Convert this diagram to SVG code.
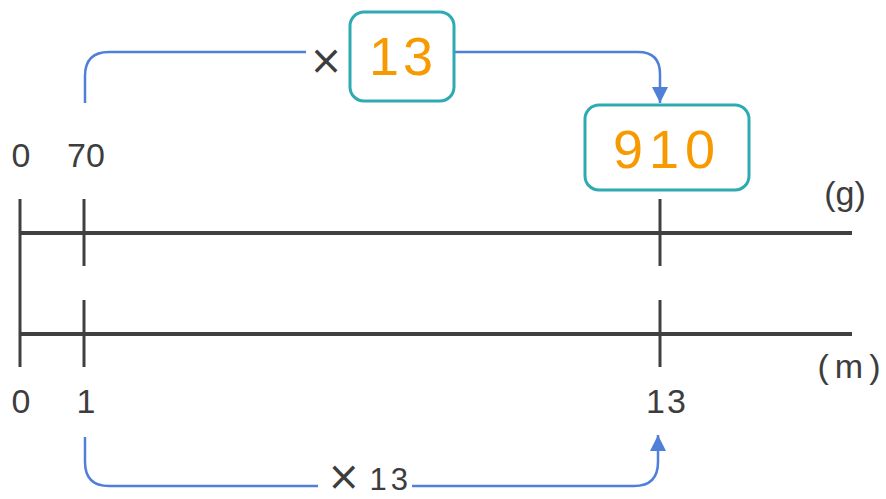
<svg xmlns="http://www.w3.org/2000/svg" width="886" height="499" viewBox="0 0 886 499">
<defs>
<style>
.axis{stroke:#404040;stroke-width:4;fill:none}
.tick{stroke:#404040;stroke-width:3;fill:none}
.conn{stroke:#4f7fd8;stroke-width:2.5;fill:none}
.box{fill:#fff;stroke:#2eaab2;stroke-width:3}
.lbl{font-family:"Liberation Sans","DejaVu Sans",sans-serif;font-size:34px;fill:#3d3d3d;text-anchor:middle}
.mul{font-family:"DejaVu Sans","Liberation Sans",sans-serif;font-size:40px;fill:#3d3d3d}
.val{font-family:"Liberation Sans","DejaVu Sans",sans-serif;font-size:54px;fill:#f79a00;text-anchor:middle}
</style>
<marker id="arr" viewBox="0 0 10 10" refX="10" refY="5" markerWidth="6.5" markerHeight="6.5" markerUnits="strokeWidth" orient="auto">
<path d="M0,0 L10,5 L0,10 z" fill="#4f7fd8"/>
</marker>
</defs>
<rect width="886" height="499" fill="#fff"/>
<g id="axes">
<line class="axis" x1="20" y1="233" x2="852" y2="233"/>
<line class="axis" x1="20" y1="334" x2="852" y2="334"/>
<line class="tick" x1="20" y1="199" x2="20" y2="367"/>
<line class="tick" x1="84" y1="199" x2="84" y2="266"/>
<line class="tick" x1="84" y1="300" x2="84" y2="367"/>
<line class="tick" x1="660" y1="199" x2="660" y2="266"/>
<line class="tick" x1="660" y1="300" x2="660" y2="367"/>
</g>
<g id="labels">
<text class="lbl" x="21" y="167">0</text>
<text class="lbl" x="86" y="167">70</text>
<text class="lbl" x="845" y="205">(g)</text>
<text class="lbl" x="21" y="413">0</text>
<text class="lbl" x="86" y="413">1</text>
<text class="lbl" x="667" y="413" letter-spacing="2">13</text>
<text class="lbl" x="852" y="378" letter-spacing="6">(m)</text>
</g>
<g id="connectors">
<path class="conn" d="M85,103 V76 Q85,52 109,52 H306"/>
<path class="conn" d="M455,52 H638 Q660,52 660,74 V103" marker-end="url(#arr)"/>
<path class="conn" d="M85,437 V462 Q85,486 109,486 H318"/>
<path class="conn" d="M412,486 H634 Q658,486 658,462 V435" marker-end="url(#arr)"/>
</g>
<g id="times-top">
<text class="mul" x="326" y="74" text-anchor="middle">×</text>
</g>
<g id="node-13">
<rect class="box" x="350" y="12" width="104" height="89" rx="14"/>
<text class="val" x="403" y="75" letter-spacing="4">13</text>
</g>
<g id="node-910">
<rect class="box" x="585" y="105" width="164" height="85" rx="14"/>
<text class="val" x="667" y="168" letter-spacing="6">910</text>
</g>
<g id="times-bottom">
<text x="327" y="490" font-family="Liberation Sans, DejaVu Sans, sans-serif" font-size="31" fill="#3d3d3d"><tspan class="mul" font-size="33">×</tspan><tspan dx="9">1</tspan><tspan dx="4">3</tspan></text>
</g>
</svg>
